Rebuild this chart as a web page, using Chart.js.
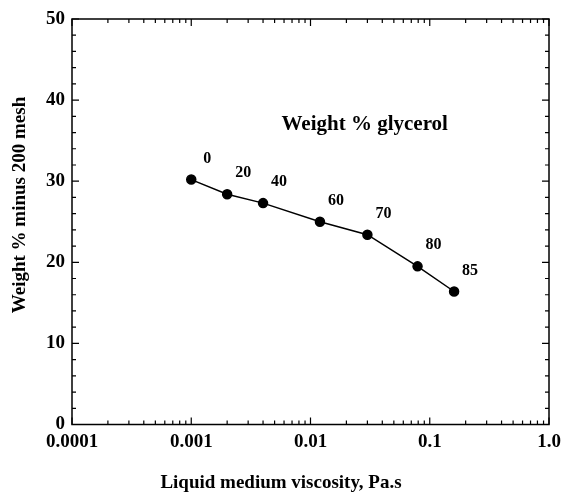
<!DOCTYPE html>
<html>
<head>
<meta charset="utf-8">
<script src="https://cdn.jsdelivr.net/npm/chart.js@4/dist/chart.umd.min.js"></script>
<style>
  html, body { margin: 0; padding: 0; background: #ffffff; }
  #wrap { width: 563px; height: 496px; }
</style>
</head>
<body>
<div id="wrap"><canvas id="c" width="563" height="496"></canvas></div>
<script>
// ---- data ----
const viscosity = [0.001, 0.002, 0.004, 0.012, 0.030, 0.079, 0.16];      // Pa.s
const weightPctMinus200 = [30.2, 28.4, 27.3, 25.0, 23.4, 19.5, 16.4];     // wt %
const glycerolPct = ['0', '20', '40', '60', '70', '80', '85'];            // point labels
const xTickValues = [0.0001, 0.001, 0.01, 0.1, 1];
const xTickLabels = ['0.0001', '0.001', '0.01', '0.1', '1.0'];
const yTickValues = [0, 10, 20, 30, 40, 50];

const xTitle = 'Liquid medium viscosity, Pa.s';
const yTitle = 'Weight % minus 200 mesh';
const noteText = 'Weight % glycerol';

const FONT = '"Liberation Serif", "Times New Roman", serif';
Chart.defaults.font.family = FONT;
Chart.defaults.color = '#000';

const points = viscosity.map((v, i) => ({ x: v, y: weightPctMinus200[i] }));

const decorPlugin = {
  id: 'decor',
  afterDraw(chart) {
    const ctx = chart.ctx;
    const xs = chart.scales.x, ys = chart.scales.y;
    const { left, right, top, bottom } = chart.chartArea;
    ctx.save();
    ctx.strokeStyle = '#000';
    ctx.lineWidth = 1.5;
    ctx.strokeRect(left, top, right - left, bottom - top);
    ctx.lineWidth = 1.2;
    ctx.beginPath();
    // x ticks (log decades with minors), inward on bottom and top
    for (let k = -4; k <= 0; k++) {
      for (let m = 1; m <= 9; m++) {
        const v = m * Math.pow(10, k);
        if (v > 1.0000001) break;
        const px = xs.getPixelForValue(v);
        const len = m === 1 ? 7 : 4;
        ctx.moveTo(px, bottom); ctx.lineTo(px, bottom - len);
        ctx.moveTo(px, top); ctx.lineTo(px, top + len);
      }
    }
    // y ticks inward on left and right
    for (let v = 0; v <= 50; v += 2) {
      const py = ys.getPixelForValue(v);
      const len = v % 10 === 0 ? 7 : 4;
      ctx.moveTo(left, py); ctx.lineTo(left + len, py);
      ctx.moveTo(right, py); ctx.lineTo(right - len, py);
    }
    ctx.stroke();

    // point labels
    ctx.fillStyle = '#000';
    ctx.textAlign = 'center';
    ctx.textBaseline = 'middle';
    ctx.font = 'bold 16px ' + FONT;
    const meta = chart.getDatasetMeta(0);
    meta.data.forEach((el, i) => {
      ctx.fillText(glycerolPct[i], el.x + 16, el.y - 21);
    });

    // note
    ctx.font = 'bold 21px ' + FONT;
    ctx.fillText(noteText, xs.getPixelForValue(0.0285), ys.getPixelForValue(37));

    // axis titles
    ctx.font = 'bold 19px ' + FONT;
    ctx.fillText(xTitle, 281, 483);
    ctx.translate(20, 205);
    ctx.rotate(-Math.PI / 2);
    ctx.fillText(yTitle, 0, 0);
    ctx.restore();
  }
};

new Chart(document.getElementById('c'), {
  type: 'scatter',
  data: {
    datasets: [{
      data: points,
      showLine: true,
      borderColor: '#000',
      borderWidth: 1.5,
      backgroundColor: '#000',
      pointRadius: 4.5,
      pointHoverRadius: 4.5,
      pointBackgroundColor: '#000',
      pointBorderColor: '#000',
      tension: 0
    }]
  },
  options: {
    responsive: false,
    animation: false,
    devicePixelRatio: 1,
    layout: { padding: { left: 0, right: 14, top: 19, bottom: 0 } },
    plugins: { legend: { display: false }, tooltip: { enabled: false }, title: { display: false } },
    scales: {
      x: {
        type: 'logarithmic',
        min: 0.0001,
        max: 1,
        position: 'bottom',
        afterBuildTicks(scale) { scale.ticks = xTickValues.map(v => ({ value: v })); },
        afterFit(scale) { scale.height = 71.5; scale.paddingRight = 0; scale.paddingLeft = 0; },
        grid: { display: false, drawTicks: false },
        border: { display: false },
        ticks: {
          autoSkip: false,
          maxRotation: 0,
          padding: 6,
          color: '#000',
          font: { size: 19, weight: 'bold' },
          callback(value) {
            const i = xTickValues.findIndex(t => Math.abs(t - value) / t < 1e-6);
            return i >= 0 ? xTickLabels[i] : '';
          }
        }
      },
      y: {
        type: 'linear',
        min: 0,
        max: 50,
        afterBuildTicks(scale) { scale.ticks = yTickValues.map(v => ({ value: v })); },
        afterFit(scale) { scale.width = 72; scale.paddingTop = 0; scale.paddingBottom = 0; },
        grid: { display: false, drawTicks: false },
        border: { display: false },
        ticks: {
          padding: 7,
          color: '#000',
          font: { size: 19, weight: 'bold' }
        }
      }
    }
  },
  plugins: [decorPlugin]
});
</script>
</body>
</html>
